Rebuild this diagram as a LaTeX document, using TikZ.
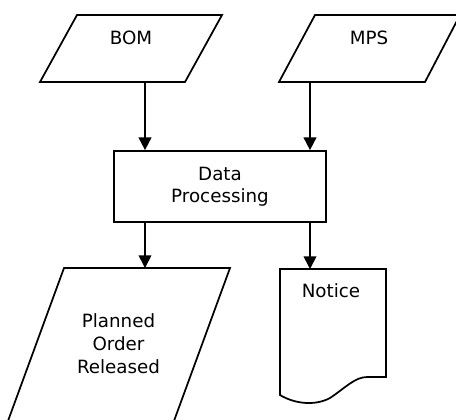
\documentclass[tikz,border=0pt]{standalone}
\usepackage{fontspec}
\setmainfont{DejaVu Sans}
\usetikzlibrary{arrows.meta}
\begin{document}
\begin{tikzpicture}[x=0.75pt,y=-0.75pt,
  shapeline/.style={draw=black,line width=1.3pt,line join=miter},
  arr/.style={draw=black,line width=1.3pt,-{Triangle[width=9.5pt,length=9.5pt]}},
  lbl/.style={font=\fontsize{13.7pt}{17pt}\selectfont,align=center,inner sep=0pt},
  procbox/.style={draw=black,line width=1.3pt,minimum width=159pt,minimum height=53.25pt,inner sep=0pt,
    font=\fontsize{13.7pt}{16.5pt}\selectfont,align=center}]
\fill[white] (0,0) rectangle (456,419);
\useasboundingbox (0,0) rectangle (456,419);
\clip (0,0) rectangle (456,419);
% BOM input
\draw[shapeline] (77,15) -- (222,15) -- (185,82) -- (40,82) -- cycle;
\node[lbl,anchor=base] (bom) at (131,44) {BOM};
\coordinate (bomout) at (145,82);
% MPS input
\draw[shapeline] (315,15) -- (460,15) -- (425,82) -- (279,82) -- cycle;
\node[lbl,anchor=base] (mps) at (369,44) {MPS};
\coordinate (mpsout) at (310,82);
% process
\node[procbox] (proc) at (220,186.5) {Data\\Processing};
% output parallelogram
\draw[shapeline] (64,268) -- (230,268) -- (171.4,428) -- (5.4,428) -- cycle;
\node[lbl,anchor=base] (por) at (118.5,373) {Planned\\Order\\Released};
\coordinate (porin) at (145,268);
% document
\draw[shapeline] (280,269) -- (386,269) -- (386,377) -- (367,377)
  .. controls (355,377) and (345,388) .. (330,398)
  .. controls (315,406) and (295,404) .. (280,395) -- cycle;
\node[lbl,anchor=base] (notice) at (331,297) {Notice};
\coordinate (docin) at (310,269);
% connectors
\draw[arr] (bomout) -- (bomout |- proc.north);
\draw[arr] (mpsout) -- (mpsout |- proc.north);
\draw[arr] (porin |- proc.south) -- (porin);
\draw[arr] (docin |- proc.south) -- (docin);
\end{tikzpicture}
\end{document}
